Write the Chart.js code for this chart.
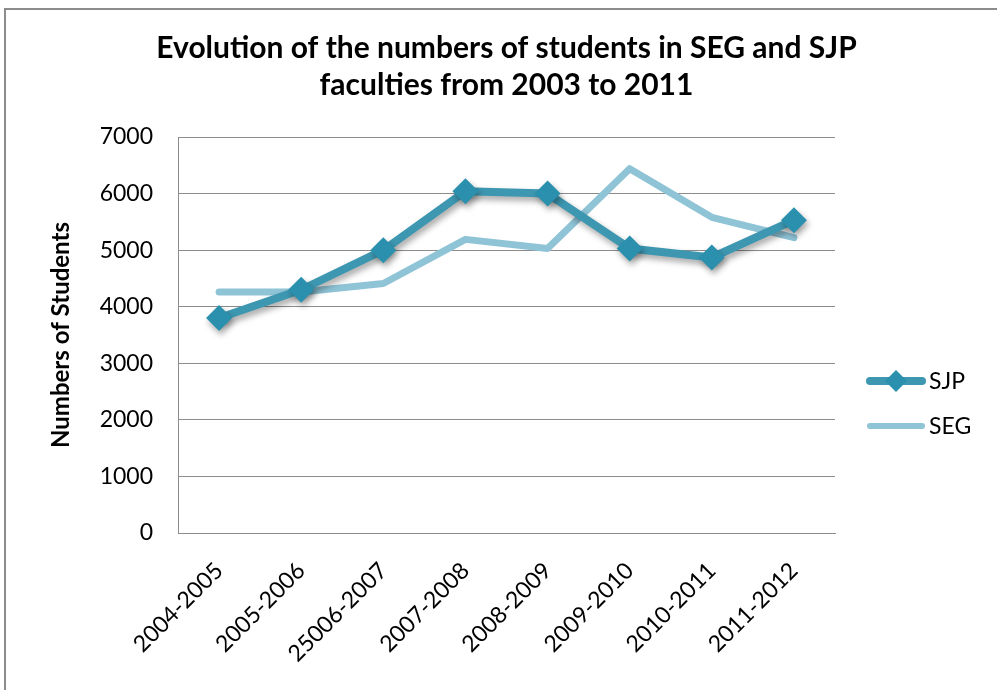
<!DOCTYPE html>
<html>
<head>
<meta charset="utf-8">
<script src="https://cdn.jsdelivr.net/npm/chart.js@4/dist/chart.umd.min.js"></script>
<style>
    html, body { margin: 0; padding: 0; background: #fff; }
    #wrap { position: relative; width: 997px; height: 690px; }
    #frame { position: absolute; left: 4px; top: 8px; width: 1000px; height: 690px; border: 2px solid #8c8c8c; box-sizing: border-box; pointer-events: none; }
</style>
</head>
<body>
<div id="wrap">
    <canvas id="chart" width="997" height="690"></canvas>
    <div id="frame"></div>
</div>
<script>
// Datos
const years = ['2004-2005', '2005-2006', '25006-2007', '2007-2008', '2008-2009', '2009-2010', '2010-2011', '2011-2012'];
const sjpValues = [3800, 4300, 5000, 6040, 6000, 5030, 4870, 5530];
const segValues = [4260, 4260, 4410, 5190, 5030, 6440, 5580, 5220];
const yTicks = [0, 1000, 2000, 3000, 4000, 5000, 6000, 7000];
const titleLines = ['Evolution of the numbers of students in SEG and SJP', 'faculties from 2003 to 2011'];

const FONT = 'Lato, "Open Sans", sans-serif';
const SJP_COLOR = '#3d97b1';
const SJP_POINT = '#2a90ae';
const SEG_COLOR = '#8fc3d6';

// Sombra suave para la serie SJP (como en Excel)
const sjpShadow = {
    id: 'sjpShadow',
    beforeDatasetDraw(chart, args) {
        if (chart.data.datasets[args.index].label !== 'SJP') return;
        const c = chart.ctx;
        c.save();
        c.shadowColor = 'rgba(0, 0, 0, 0.35)';
        c.shadowBlur = 6;
        c.shadowOffsetX = 2;
        c.shadowOffsetY = 4;
    },
    afterDatasetDraw(chart, args) {
        if (chart.data.datasets[args.index].label !== 'SJP') return;
        chart.ctx.restore();
    }
};

// Título y leyenda dibujados a mano (posición estilo Excel)
const excelDecor = {
    id: 'excelDecor',
    afterDraw(chart) {
        const c = chart.ctx;
        const area = chart.chartArea;
        const cx = (area.left + area.right) / 2;
        c.save();
        c.fillStyle = '#000';
        c.font = 'bold 30px ' + FONT;
        c.textAlign = 'center';
        c.textBaseline = 'alphabetic';
        c.fillText(titleLines[0], cx, 58);
        c.fillText(titleLines[1], cx, 95);

        // leyenda
        const items = [
            { label: 'SJP', color: SJP_COLOR, y: 381, marker: true, width: 8 },
            { label: 'SEG', color: SEG_COLOR, y: 426, marker: false, width: 6 }
        ];
        items.forEach(it => {
            c.strokeStyle = it.color;
            c.lineWidth = it.width;
            c.lineCap = 'round';
            c.beginPath();
            c.moveTo(870, it.y);
            c.lineTo(922, it.y);
            c.stroke();
            if (it.marker) {
                c.fillStyle = SJP_POINT;
                c.beginPath();
                c.moveTo(896, it.y - 11);
                c.lineTo(907, it.y);
                c.lineTo(896, it.y + 11);
                c.lineTo(885, it.y);
                c.closePath();
                c.fill();
            }
            c.fillStyle = '#000';
            c.font = '23px ' + FONT;
            c.textAlign = 'left';
            c.textBaseline = 'middle';
            c.fillText(it.label, 929, it.y + 1);
        });
        c.restore();
    }
};

const ctx = document.getElementById('chart').getContext('2d');
new Chart(ctx, {
    type: 'line',
    data: {
        labels: years,
        datasets: [
            {
                label: 'SEG',
                data: segValues,
                borderColor: SEG_COLOR,
                borderWidth: 7,
                pointRadius: 0,
                tension: 0,
                borderCapStyle: 'round',
                borderJoinStyle: 'round',
                fill: false,
                order: 2
            },
            {
                label: 'SJP',
                data: sjpValues,
                borderColor: SJP_COLOR,
                borderWidth: 8,
                pointStyle: 'rectRot',
                pointRadius: 13,
                pointBackgroundColor: SJP_POINT,
                pointBorderWidth: 0,
                tension: 0,
                borderJoinStyle: 'round',
                fill: false,
                order: 1
            }
        ]
    },
    options: {
        responsive: false,
        animation: false,
        layout: {
            padding: { top: 137, right: 162, left: 47, bottom: 0 }
        },
        plugins: {
            legend: { display: false },
            title: { display: false },
            tooltip: { enabled: false }
        },
        scales: {
            x: {
                offset: true,
                grid: { display: false },
                border: { color: '#8c8c8c', width: 1 },
                ticks: {
                    color: '#000',
                    font: { family: FONT, size: 23 },
                    maxRotation: 45,
                    minRotation: 45,
                    padding: 16
                },
                afterFit(scale) { scale.height = 157; }
            },
            y: {
                min: 0,
                max: 7000,
                afterBuildTicks(scale) { scale.ticks = yTicks.map(v => ({ value: v })); },
                grid: { color: '#8c8c8c', lineWidth: 1, drawTicks: false },
                border: { color: '#8c8c8c', width: 1 },
                ticks: {
                    color: '#000',
                    font: { family: FONT, size: 23 },
                    padding: 25,
                    callback: v => String(v)
                },
                title: {
                    display: true,
                    text: 'Numbers of Students',
                    color: '#000',
                    font: { family: FONT, size: 24, weight: 'bold' },
                    padding: 0
                },
                afterFit(scale) { scale.width = 131; }
            }
        }
    },
    plugins: [sjpShadow, excelDecor]
});
</script>
</body>
</html>
